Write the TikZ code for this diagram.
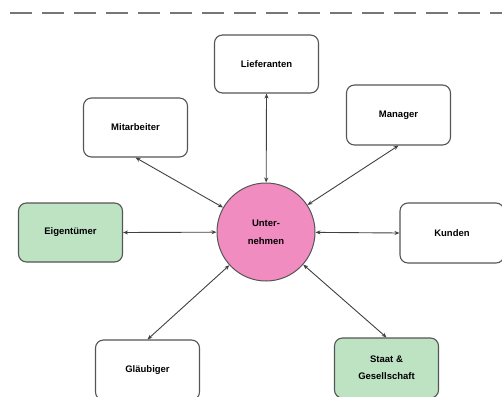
\documentclass[tikz,border=0pt]{standalone}
\usepackage{fontspec}
\setmainfont{Liberation Sans}
\usetikzlibrary{arrows.meta}
\definecolor{boxgreen}{HTML}{BDE3C3}
\definecolor{unpink}{HTML}{F08CBF}
\definecolor{edge}{HTML}{555555}
\begin{document}
\begin{tikzpicture}[x=1pt,y=-1pt,
  box/.style={draw=edge,line width=1.1pt,rounded corners=8pt,fill=white,
    minimum width=104pt,align=center,font=\bfseries\fontsize{9.5}{17}\selectfont,inner sep=0pt},
  conn/.style={draw=black!75,line width=0.9pt,{Stealth[length=5pt,width=4pt]}-{Stealth[length=5pt,width=4pt]}}]
\useasboundingbox (0,0) rectangle (502,396);
\draw[edge!80,line width=2.5pt,dash pattern=on 22pt off 10pt] (10,13) -- (502,13);
\node[circle,draw=edge,line width=1pt,fill=unpink,minimum size=98pt,inner sep=0pt,
  align=center,font=\bfseries\fontsize{9.5}{18}\selectfont] (u) at (266,232) {Unter-\\nehmen};
\node[box,minimum height=58pt] (lie) at (266.5,64) {Lieferanten};
\node[box,minimum height=59pt] (mit) at (135.5,127.5) {Mitarbeiter};
\node[box,minimum height=60pt] (man) at (398.5,115) {Manager};
\node[box,minimum height=59pt,fill=boxgreen] (eig) at (70.5,232.5) {Eigentümer};
\node[box,minimum height=60pt] (kun) at (452,233) {Kunden};
\node[box,minimum height=60pt] (gla) at (147.5,370) {Gläubiger};
\node[box,minimum height=60pt,fill=boxgreen] (sta) at (386.5,368) {Staat \&\\Gesellschaft};
\draw[conn] (lie.south) -- (u);
\draw[conn] (mit.south) -- (u);
\draw[conn] (man.south) -- (u);
\draw[conn] (eig.east) -- (u);
\draw[conn] (kun.west) -- (u);
\draw[conn] (gla.north) -- (u);
\draw[conn] (sta.north) -- (u);
\end{tikzpicture}
\end{document}
